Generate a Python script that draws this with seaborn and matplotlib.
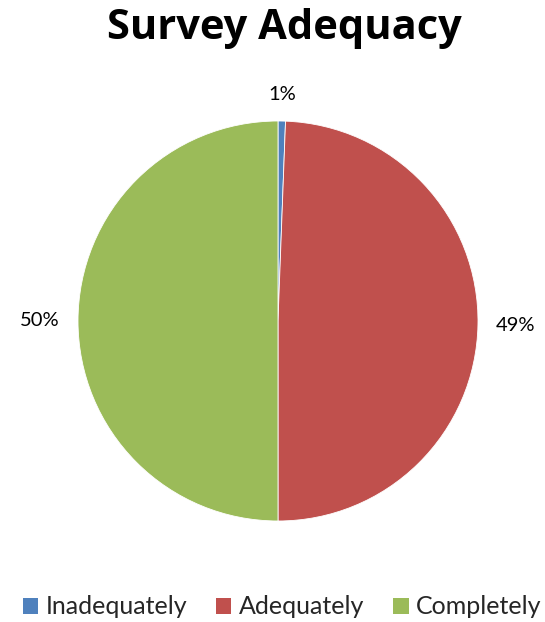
import numpy as np
import matplotlib
matplotlib.use("Agg")
import matplotlib.pyplot as plt
import seaborn as sns
from matplotlib.patches import Patch

sns.set_theme(style="white")
plt.rcParams['font.family'] = ['Lato', 'DejaVu Sans']

categories = ["Inadequately", "Adequately", "Completely"]
shares = [0.6, 49.4, 50.0]
colors = ["#4F81BD", "#C0504D", "#9BBB59"]

W, H = 545, 622
fig = plt.figure(figsize=(W / 100, H / 100), dpi=100)
fig.patch.set_facecolor("white")

cx, cy, r = 278, 321, 200
ax = fig.add_axes([(cx - r) / W, (H - cy - r) / H, 2 * r / W, 2 * r / H])
wedges, _ = ax.pie(shares, colors=colors, startangle=90, counterclock=False,
                   radius=1.0, wedgeprops=dict(linewidth=0.6, edgecolor="white"))
ax.set_xlim(-1, 1)
ax.set_ylim(-1, 1)
ax.set_aspect("equal")
ax.axis("off")

# percentage labels just outside each wedge
for w, v in zip(wedges, shares):
    ang = np.deg2rad((w.theta1 + w.theta2) / 2)
    x, y = np.cos(ang), np.sin(ang)
    d = 1.09
    if abs(x) < 0.3:
        ha, va = "center", ("bottom" if y > 0 else "top")
    else:
        ha, va = ("left" if x > 0 else "right"), "center"
    ax.text(d * x, d * y, f"{v:.0f}%", ha=ha, va=va, fontsize=14.5, color="black",
            clip_on=False)

fig.text(284 / W, 1 - 39 / H, "Survey Adequacy", ha="center", va="baseline",
         fontsize=30, fontweight="bold", color="black",
         family=["Open Sans", "DejaVu Sans"])

handles = [Patch(facecolor=c, edgecolor="none") for c in colors]
fig.legend(handles, categories, loc="center", bbox_to_anchor=(282 / W, 1 - 607 / H),
           ncol=3, frameon=False, fontsize=18, handlelength=0.62, handleheight=0.62,
           handletextpad=0.3, columnspacing=1.15)

fig.savefig("out.png", dpi=100, facecolor="white")
